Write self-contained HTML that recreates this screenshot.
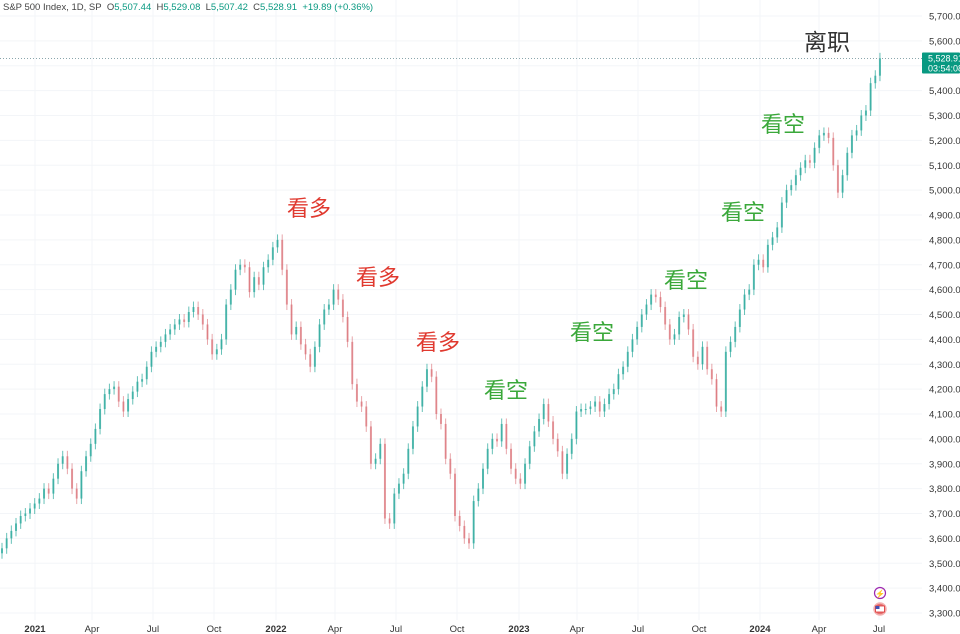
<!DOCTYPE html>
<html><head><meta charset="utf-8"><style>
html,body{margin:0;padding:0;background:#fff;width:960px;height:634px;overflow:hidden;font-family:"Liberation Sans","Noto Sans CJK SC",sans-serif}
#hdr{position:absolute;left:3px;top:2px;font-size:9.5px;color:#444;white-space:nowrap}
#hdr .v{color:#089981}
.note{position:absolute;font-size:22px;font-family:"Liberation Sans","Noto Sans CJK SC",sans-serif;transform:translate(-50%,-50%);white-space:nowrap}
.bull{color:#e0392f}.bear{color:#3aa83a}
</style></head><body>
<svg id="chart" width="960" height="634" style="position:absolute;left:0;top:0"></svg>
<div id="hdr">S&amp;P 500 Index, 1D, SP&nbsp;&nbsp;O<span class="v">5,507.44</span>&nbsp;&nbsp;H<span class="v">5,529.08</span>&nbsp;&nbsp;L<span class="v">5,507.42</span>&nbsp;&nbsp;C<span class="v">5,528.91</span>&nbsp;&nbsp;<span class="v">+19.89 (+0.36%)</span></div>
<div class="note bull" style="left:309px;top:207px">看多</div>
<div class="note bull" style="left:378px;top:276px">看多</div>
<div class="note bull" style="left:438px;top:341px">看多</div>
<div class="note bear" style="left:506px;top:389px">看空</div>
<div class="note bear" style="left:592px;top:331px">看空</div>
<div class="note bear" style="left:686px;top:279px">看空</div>
<div class="note bear" style="left:743px;top:211px">看空</div>
<div class="note bear" style="left:783px;top:123px">看空</div>
<div class="note" style="left:827px;top:40px;color:#333;font-size:23px">离职</div>
<script>
const closes=[3560,3600,3630,3660,3690,3700,3720,3740,
3760,3800,3780,3840,3900,3930,3880,
3800,3760,3870,3930,3980,
4040,4120,4180,4200,4210,4150,4110,
4160,4190,4230,4240,4290,4350,4370,
4390,4420,4440,4460,4480,4470,4510,4530,4500,
4460,4400,4340,4360,4400,
4540,4600,4680,4700,4690,4590,
4650,4620,4690,4720,4770,4800,
4680,4540,4420,4450,4380,4340,4290,4370,
4460,4520,4540,4600,4560,
4490,4390,4220,4150,4130,4050,3900,3920,3980,3680,
3660,3780,3820,3860,
3960,4050,4130,4210,4280,4250,
4100,4060,3920,3860,3690,3650,3600,3580,
3750,3800,3880,3960,4000,3990,4060,3960,
3880,3840,3820,3900,3970,
4030,4080,4140,4070,4000,3950,
3860,3940,4000,4110,4120,4120,4130,
4150,4110,4140,4180,4200,4260,
4290,4350,4400,4450,4500,4540,4580,4570,
4530,4460,4400,4420,4490,4500,4440,4330,
4300,4370,4280,4240,4130,4110,4350,4390,
4450,4520,4580,4600,4700,4720,4690,
4780,4810,4850,4950,5000,5020,5060,
5090,5120,5110,5170,5220,5230,5210,
5100,4990,5060,5150,5220,
5240,5300,5320,5430,5460,5530];
const firstOpen=3540;
const priceTicks=[5700,5600,5500,5400,5300,5200,5100,5000,4900,4800,4700,4600,4500,4400,4300,4200,4100,4000,3900,3800,3700,3600,3500,3400,3300];
const timeLabels=["2021","Apr","Jul","Oct","2022","Apr","Jul","Oct","2023","Apr","Jul","Oct","2024","Apr","Jul"];
const timeTickX=[35,92,153,214,276,335,396,457,519,577,638,699,760,819,879];
const lastPrice=5528.91;

const NS="http://www.w3.org/2000/svg";
const svg=document.getElementById('chart');
function y(v){return 16+(5700-v)*0.24875;}
function xi(i){return 2+i*4.67;}
function mk(t,a){const e=document.createElementNS(NS,t);for(const k in a)e.setAttribute(k,a[k]);svg.appendChild(e);return e;}
priceTicks.forEach(p=>{
  const l=mk('line',{x1:0,x2:922,y1:y(p),y2:y(p),stroke:'#f3f5f8','stroke-width':1});
  
  
  const t=mk('text',{x:929,y:y(p)+3.5,'font-size':9.5,fill:'#333','font-family':'Liberation Sans, sans-serif'});
  t.textContent=p.toLocaleString('en-US',{minimumFractionDigits:2});
  
  
});
timeLabels.forEach((s,k)=>{
  const x=timeTickX[k];
  const l=mk('line',{x1:x,x2:x,y1:0,y2:620,stroke:'#f3f5f8','stroke-width':1});
  
  
  const t=mk('text',{x:x,y:632,'font-size':9.5,fill:'#333','text-anchor':'middle','font-family':'Liberation Sans, sans-serif','font-weight':(/^\d/.test(s)?'bold':'normal')});
  t.textContent=s;
  
  
});
closes.forEach((c,i)=>{
  const o=i?closes[i-1]:firstOpen;
  const up=c>=o;
  const col=up?'rgba(38,166,154,0.7)':'rgba(214,92,100,0.55)';
  const hi=Math.max(o,c)+22, lo=Math.min(o,c)-22;
  const x=xi(i);
  const w=mk('line',{x1:x,x2:x,y1:y(hi),y2:y(lo),stroke:col,'stroke-width':1});
  
  
  const top=y(Math.max(o,c)),bot=y(Math.min(o,c));
  const b=mk('rect',{x:x-1,y:top,width:2,height:Math.max(1,bot-top),fill:col});
  
  
});
const ly=y(lastPrice);
const dl=mk('line',{x1:0,x2:922,y1:ly,y2:ly,stroke:'#7a9aa0','stroke-width':0.8,'stroke-dasharray':'1 2'});


const bx=mk('rect',{x:922,y:ly-6,width:38,height:21,fill:'#089981',rx:1});


const t1=mk('text',{x:928,y:ly+3,'font-size':9,fill:'#fff','font-family':'Liberation Sans, sans-serif'});
t1.textContent=lastPrice.toLocaleString('en-US',{minimumFractionDigits:2});


const t2=mk('text',{x:928,y:ly+13,'font-size':9,fill:'#fff','font-family':'Liberation Sans, sans-serif'});
t2.textContent='03:54:08';


const c1=mk('circle',{cx:880,cy:593,r:5.5,fill:'#fff',stroke:'#9c27b0','stroke-width':1.2});


const bolt=mk('text',{x:880,y:596.5,'font-size':8,fill:'#9c27b0','text-anchor':'middle'});
bolt.textContent='⚡';


const c2=mk('circle',{cx:880,cy:609,r:6,fill:'#e57373',stroke:'#f3b0b0','stroke-width':1.5});


const f=mk('rect',{x:875.5,y:606,width:9,height:6,fill:'#fff',stroke:'#d33','stroke-width':0.8});


const fb=mk('rect',{x:875.5,y:606,width:4,height:3,fill:'#3f51b5'});


</script>
</body></html>
